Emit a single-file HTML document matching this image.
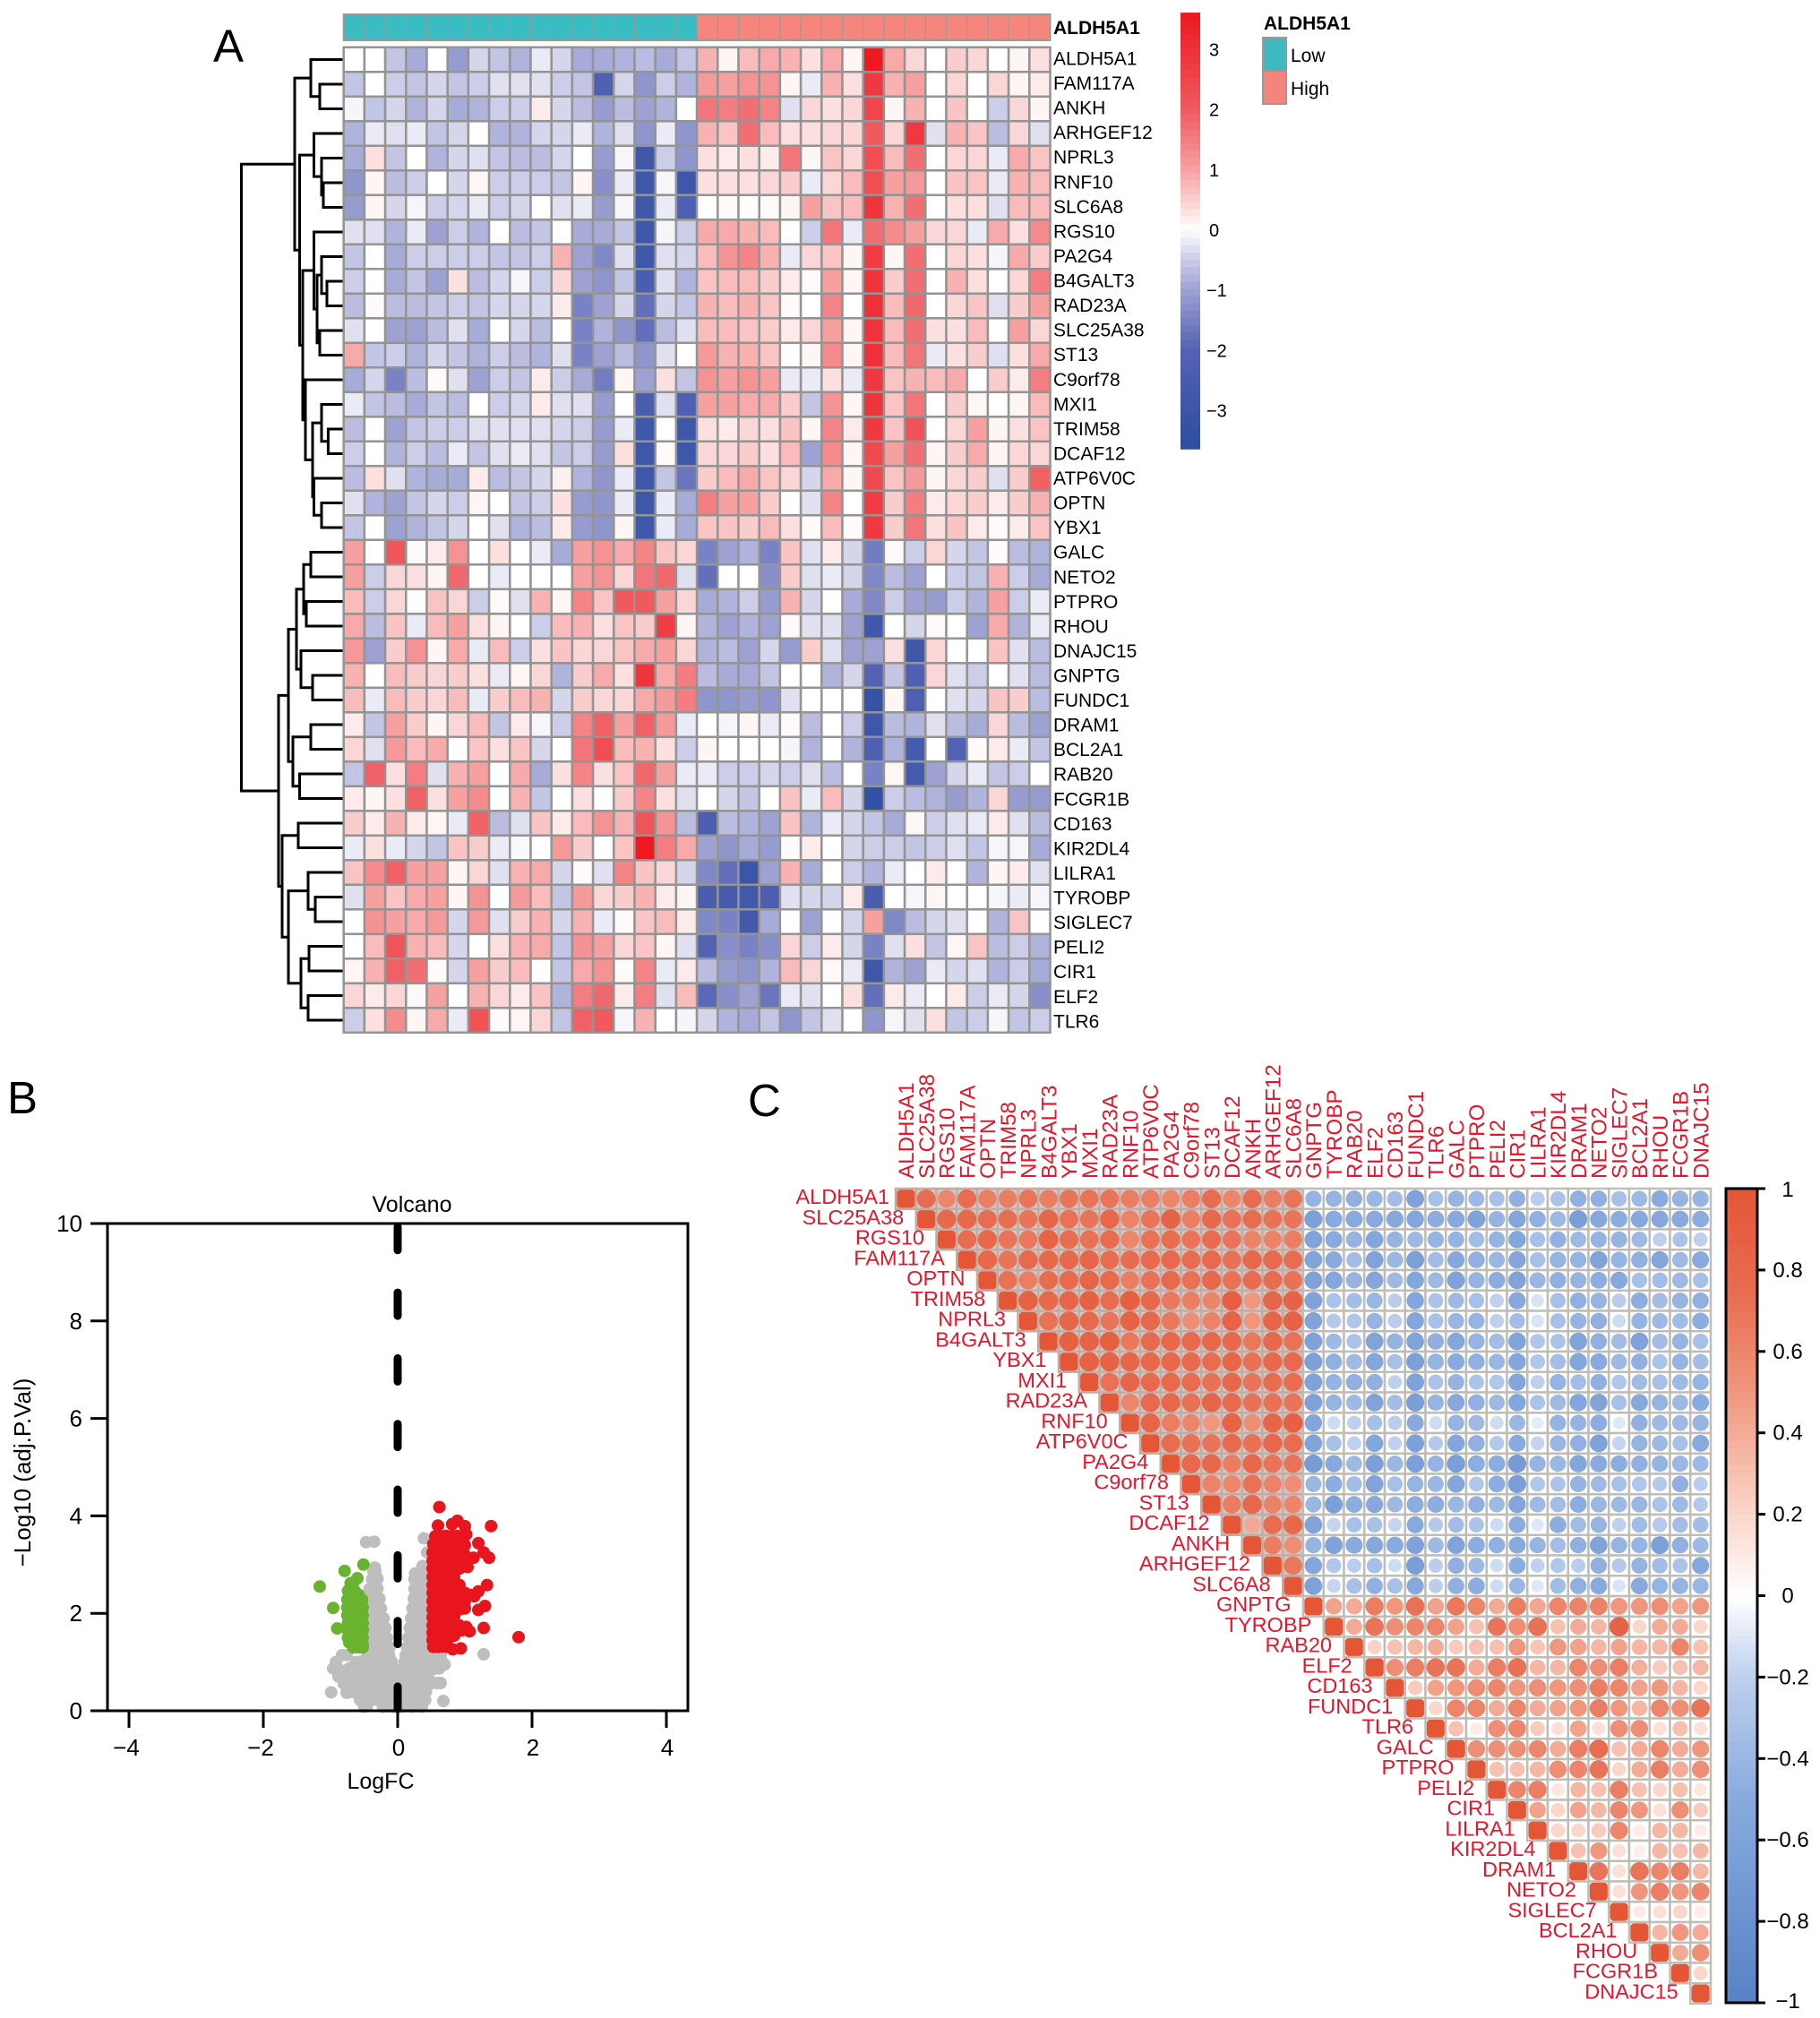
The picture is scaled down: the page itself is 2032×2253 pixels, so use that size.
<!DOCTYPE html>
<html lang="en">
<head>
<meta charset="utf-8">
<title>ALDH5A1 heatmap, volcano plot and correlation matrix</title>
<style>
html,body{margin:0;padding:0;background:#fff;}
svg{display:block;font-family:"Liberation Sans",Arial,sans-serif;}
</style>
</head>
<body>
<svg id="fig" xmlns="http://www.w3.org/2000/svg" width="2032" height="2253" viewBox="0 0 2032 2253">
  <rect x="0" y="0" width="2032" height="2253" fill="#fff"/>
  <text x="238" y="69" font-size="51">A</text>
  <text x="8" y="1243" font-size="51">B</text>
  <text x="835" y="1246" font-size="51">C</text>
  <g id="dendrogram"></g>
  <g id="annotation"></g>
  <g id="heatmap"></g>
  <g id="heatLegend"></g>
  <g>
    <text x="1411" y="33" font-size="21" font-weight="bold">ALDH5A1</text>
    <rect x="1410" y="42" width="26" height="37" fill="#3DB9BF" stroke="#9a9a9a" stroke-width="2"/>
    <rect x="1410" y="79" width="26" height="37" fill="#F4857C" stroke="#9a9a9a" stroke-width="2"/>
    <text x="1441" y="69" font-size="21">Low</text>
    <text x="1441" y="106" font-size="21">High</text>
  </g>
  <g id="volcano"></g>
  <g id="corr"></g>
  <g id="corrLegend"></g>
</svg>
<script>
/* ---------- Panel A data ---------- */
const heatGenes = ["ALDH5A1","FAM117A","ANKH","ARHGEF12","NPRL3","RNF10","SLC6A8","RGS10","PA2G4","B4GALT3","RAD23A","SLC25A38","ST13","C9orf78","MXI1","TRIM58","DCAF12","ATP6V0C","OPTN","YBX1","GALC","NETO2","PTPRO","RHOU","DNAJC15","GNPTG","FUNDC1","DRAM1","BCL2A1","RAB20","FCGR1B","CD163","KIR2DL4","LILRA1","TYROBP","SIGLEC7","PELI2","CIR1","ELF2","TLR6"];
const annotationGroups = ["Low","Low","Low","Low","Low","Low","Low","Low","Low","Low","Low","Low","Low","Low","Low","Low","Low","High","High","High","High","High","High","High","High","High","High","High","High","High","High","High","High","High"];
const heatValues = [
[0,0,-.6,-.9,0,-1.1,-.4,-.6,-.8,-.2,-.4,-.9,-.9,-.8,-.7,-.9,-.6,.8,.1,.7,.9,.8,.3,.9,.1,3.6,.9,.4,0,.5,.4,0,.1,.3],
[-.6,0,-.5,-.6,-.4,-.6,-.5,-.3,-.3,-.3,-.5,-.6,-2.2,-.4,-1.2,-.5,-.8,1.1,1,1.2,1.2,.1,-.2,.8,.3,2.8,.8,1,0,.4,0,.4,.1,.2],
[-.1,-.6,-.4,-.8,-.4,-.9,-.8,-.5,-.5,.2,-.4,-.7,-1.1,-.7,-1,-.8,0,1.6,1.5,1.7,1.4,-.3,.4,.3,.4,2.5,.1,.8,0,.6,0,-.5,.4,.1],
[-.8,-.2,-.3,-.2,-.6,-.4,0,-.8,-.8,-.4,-.4,-.2,-.8,-.3,-1.2,-.2,-1.2,.8,.6,1.7,.7,.3,.3,.4,.4,2,.4,2.8,-.3,.8,.6,-.7,.4,-.3],
[-.9,.3,-.6,0,-.8,-.4,-.3,-.6,-.7,-.7,-.4,0,-1.1,-.1,-2.9,-.5,-1.2,.3,.2,.3,.2,1.6,.1,.6,.4,2.3,.7,1.7,0,.4,.4,-.2,.9,.6],
[-1.2,.1,-.7,-.5,0,-.4,.1,-.5,-.5,-.5,-.6,.1,-1.3,-.2,-2.9,-.1,-2.9,.3,.3,.3,.4,.5,-.2,.4,.7,2.3,1,1.1,0,.6,.6,-.2,.8,.7],
[-1.1,.1,-.4,-.1,-.5,-.4,-.2,-.5,-.4,0,-.3,-.2,-1.1,-.1,-2.9,-.2,-2.2,0,.05,.02,.05,.1,1,.6,.7,2.9,.8,1.7,0,.3,.3,-.3,.7,.7],
[-.3,-.3,-.8,-.2,-1,-.5,-.8,0,-.7,-.6,0,-.9,-.9,-.6,-2.9,-.1,-.5,.9,.9,.8,.7,0,-.5,1.6,-.2,1.7,1.3,1,.4,.4,-.2,.9,.3,1.3],
[-.6,0,-.9,-.5,-.5,-.5,-.5,-.6,-.6,-.5,.8,-1,-1.4,-.3,-2.9,-.3,-.4,.7,1.2,1.4,.8,-.2,.4,.6,.1,2.7,.1,1.7,0,.4,.3,-.1,.9,.5],
[-.5,0,-.9,-.6,-1,.3,-.7,-.4,-.1,-.5,.4,-1,-1.2,-.6,-2.4,-.3,-.8,.6,.7,.7,.5,.2,.05,1,.1,2.9,.5,1.7,0,.8,.3,0,.4,1.5],
[-.7,.05,-.7,-.7,-.6,-.5,-.6,-.4,-.4,-.4,.2,-1.5,-1,-.4,-1.8,-.4,-.6,.8,.7,.8,.6,.05,0,1.4,0,3,.7,1.8,0,.4,.6,-.3,.5,1],
[-.3,0,-1,-1,-.7,-.3,-.9,0,-.4,-.7,0,-1.5,-.8,-1.2,-1.8,-.7,-.3,.7,.7,.6,.5,.2,.4,1,.1,2.9,.7,1.7,.3,.3,.7,0,1,.4],
[.9,-.6,-.5,-.8,-.4,-.6,-.8,-.5,-.7,-.8,-.3,-1.5,-1,-.7,-1.2,-.3,0,1.1,.8,.8,.6,0,.1,1.3,.1,3,.7,1.6,-.2,.3,.5,-.3,.3,.9],
[-.9,-.4,-1.5,-.7,.05,-.3,-1,-.5,-.6,.2,-.5,-.9,-1.6,.1,-1,.3,-.6,1.2,1,1.2,1,-.2,-.2,.3,-.2,2.8,.6,.8,.7,.9,0,.5,.2,1.5],
[-.2,-.6,-.7,-.9,-.6,-.7,0,-.5,-.4,.2,-.3,-.3,-1.1,0,-2.4,-.3,-2.2,1,1,.9,.9,.5,-.6,1.2,.1,2.9,.6,1.6,0,.5,.1,0,.1,.7],
[-.7,0,-1,-.6,-.5,-.5,-.3,-.3,-.3,-.3,-.4,-.5,-1.1,-.2,-2.8,0,-2.9,.3,.2,.4,.3,.6,.1,1.4,.2,2.8,.6,2.2,0,.4,1,.1,.3,.6],
[-.5,0,-.8,-.5,-.7,-.2,-.6,-.3,-.2,-.3,-.6,-.5,-1.1,.3,-2.9,.05,-2.9,.4,.4,.5,.3,.7,-1,1.3,.1,2.4,1,1.7,.1,.5,.9,.1,.4,.4],
[-.7,.3,-.3,-.8,-.9,-.9,.2,-.7,-.6,-.4,.15,-.8,-1.2,-.2,-2.8,-.6,-1.7,.5,.7,.9,.6,.4,-.4,.9,.1,2.4,.6,1.1,.1,.4,.5,-.3,.5,1.9],
[-.3,-.8,-1,-.6,-.4,-.5,.1,0,-.6,-.5,.3,-1.1,-1.2,-.2,-2.9,-.2,-.9,1.5,1,1,.5,0,-.3,1.4,0,2.7,.5,1.5,.2,.4,.5,.2,.5,.8],
[-.6,0,-1,-.8,-.6,-.4,0,-.3,-.8,-.7,.2,-1.1,-1.2,.1,-2.8,-.2,-.9,.6,.6,.5,.7,.3,.05,.7,.05,2.8,.5,1.6,.3,.6,.2,.05,.2,.6],
[1,0,2.1,.05,.2,1.2,0,.3,0,-.2,-.9,1,1.2,.9,1.4,.6,.4,-1.5,-1,-.8,-1.5,.6,-.3,.2,-.4,-1.6,.05,-.5,.4,-.4,-.6,.05,-.7,-.8],
[1,-.5,.4,.3,.1,1.8,0,-.2,0,0,0,1,1.2,.4,1.6,1.8,-.3,-1.8,0,0,-1.3,.5,-.3,-.2,-.4,-1.4,-.7,-1,0,-.5,-.6,.8,-.5,-.9],
[.7,-.5,.4,0,.6,.4,-.5,.05,-.3,.8,.1,1.4,.6,2,2,1,.4,-.9,-.8,-.5,-1.1,.8,-.4,0,-.9,-1.4,-.5,-1,-1.1,-.5,-.8,1,-.5,-.2],
[.9,-.7,.6,-.2,.7,1,.3,.1,0,-.5,.7,.8,.3,.6,.5,2.7,.1,-.8,-1,-.8,-1,.05,-.3,-.3,-1,-2.8,0,-.4,.05,0,-1,.9,-.8,-.2],
[1.1,-1,.5,1.2,.1,.9,-.2,.7,-.5,.3,.6,.4,.4,.6,.9,1,.4,-.8,-.7,-1,-.4,-1.1,.5,-.3,-1,-1,.3,-2.9,.4,0,0,.6,-.3,-.7],
[.8,0,.7,.5,.4,.5,.3,-.2,.1,.4,-.8,.5,.9,.3,2.9,.9,1.5,-.7,-.9,-.9,-.6,0,0,-.8,-.4,-2,-.6,-2.2,.4,-.3,-.5,0,-.3,-.7],
[.7,-.2,.7,.5,.4,.7,-.2,.5,.7,.8,-.4,.5,.4,.4,.9,1.1,1.5,-1.2,-1.2,-1.1,-1.2,-.3,0,0,0,-3.2,.1,-2.2,0,-.3,-.4,.6,.5,-.7],
[.2,-.6,1,.5,.1,.4,.7,-.6,.2,-.1,-.5,1.4,1.9,1,1.9,1.1,-.2,0,-.1,.1,-.2,.05,-.7,0,-.5,-2.9,-.7,-.8,-.3,-.7,-.9,.4,-.7,-1],
[.4,-.3,1.1,.7,.9,0,.6,.3,.6,-.4,0,1.6,2.3,.7,.8,.3,-.5,.1,0,0,0,-.1,-.8,0,-.8,-2.2,-.8,-2.6,0,-2.1,.05,.2,-.2,-.6],
[-.6,1.9,.3,1.5,-.3,.8,1,0,.9,-.9,.3,1.4,.3,.6,1.8,1,-.2,-.2,-.5,-.5,-.4,-.5,-.3,-.7,0,-1.5,.1,-2.6,-1,-.4,-.2,-.6,-.5,0],
[.2,.1,.3,1.9,.3,1,1.3,0,.8,-.6,0,.3,0,.5,1.4,.3,-.3,0,-.4,-.6,0,.6,-.2,.7,-.4,-3.3,-.5,-.7,-.8,-1.1,-.8,.4,-1.1,-1.1],
[.5,.2,.8,.2,.1,-.2,1.9,-.7,-.3,.6,.2,.7,1.2,.8,2.1,1.2,-.7,-2.3,-.7,-.8,-1,.6,-.8,-.2,-.4,-.6,-.9,.1,-.5,-.3,-.2,.2,-.3,-.7],
[-.2,.3,-.2,-.4,-.6,.6,.5,-.2,-.05,0,1.1,.5,0,.6,3.6,1.5,.9,-1,-1.2,-.9,-1.1,.05,.2,0,-.4,-.5,-.5,-.6,-.5,-.3,-.6,-.1,-.1,-.9],
[.6,1.3,1.9,1,1,.1,.4,-.3,.8,.9,-.4,.05,-.3,1.4,.6,.4,-.4,-1.4,-1.8,-3,-1,.8,-.9,0,-.5,-.8,-.2,0,.2,0,-.8,.1,.2,-.3],
[-.3,1,.6,.9,1,.1,1.2,0,1.1,.7,-.6,1.1,.4,.5,.8,.2,.1,-2.4,-2.5,-2.7,-2.3,-.3,-.4,-.4,.2,-2.4,0,-.1,.1,0,0,-.1,-.2,-.1],
[0,1.2,1,.9,1.1,-.4,1.1,-.3,.5,.8,-.4,.8,-.2,.05,.6,.7,.2,-1.4,-1.5,-2.7,-.9,0,-1,0,-.4,1,-1.4,-.7,-.4,-.3,0,-.8,.6,0],
[0,.7,2.1,.8,.7,-.4,0,.3,.8,.9,-.6,1.2,1,.4,.6,.1,-.3,-2,-1.3,-1.5,-1.3,.4,-.5,.2,-.4,-1.5,-.3,.3,-.6,.1,.6,-.7,-.5,-.8],
[.1,.8,1.9,1.7,.05,-.4,1,.5,.7,0,-.6,.9,1.2,.05,1.4,-.2,.2,-.7,-1.1,-1.2,-.8,.7,.4,.05,-.2,-2.9,-.8,-1,-.2,-.4,-.3,-.8,-.5,-.9],
[.4,.2,.4,-.05,1,0,.8,.4,.2,.6,-.8,1.5,1.8,.2,1.5,-.3,.7,-1.9,-1.3,-1,-1.7,-.2,-.3,0,.3,-1.8,.2,-.2,0,.2,-.5,-.2,-.4,-1.3],
[-.5,.3,1.3,.1,.9,-.2,2.2,.05,.1,.4,-.6,1.9,2,-.1,.8,0,-.1,-.4,-.8,-.9,-.6,-1.2,-.6,-.3,0,-1.2,-.1,-.3,.3,-.6,-.5,-.1,-.6,-.5]
];
const heatLegendTicks = [3,2,1,0,-1,-2,-3];
/* merge heights of the row dendrogram: [height, left branch, right branch]; plain numbers are row indexes */
const dendroUpper = [54,[36,0,[26,1,2]],[48.5,[32.5,3,[24,4,[22,5,6]]],[45,[32.5,7,[29,[24,8,[18,9,10]],[26,11,12]]],[42,13,[34,[24,14,[16.6,15,16]],[32.5,17,[24,18,19]]]]]]];
const dendroLower = [72,[61,[52,[44,[36,20,21],[41,22,23]],[47,24,[34,25,26]]],[56,[36,27,28],[48.5,29,30]]],[68,[50,31,32],[61,[39,33,[31,34,35]],[47,[38,36,37],[39,38,39]]]]];
const dendroRootHeight = 113.5;

/* ---------- Panel B data: [logFC, -log10 adj.P] ---------- */
const volcanoXTicks = [-4,-2,0,2,4];
const volcanoYTicks = [0,2,4,6,8,10];
const volcanoGray = [
[-.5,.08],[-.46,.09],[-.22,.08],[-.14,.09],[-.06,.08],[.06,.08],[.14,.09],[.22,.08],[.3,.09],[.36,.08],
[-.56,.22],[-.48,.23],[-.4,.22],[-.32,.23],[-.24,.22],[-.16,.23],[-.08,.22],[.06,.22],[.14,.23],[.22,.22],[.3,.23],[.38,.22],[.41,.22],[.68,.2],
[-.99,.38],[-.76,.37],[-.66,.38],[-.58,.38],[-.5,.39],[-.42,.38],[-.34,.38],[-.26,.39],[-.18,.38],[-.1,.38],[-.03,.39],[.04,.38],[.12,.38],[.2,.39],[.28,.38],[.36,.38],[.42,.39],
[-.8,.55],[-.72,.55],[-.64,.56],[-.56,.55],[-.48,.55],[-.4,.56],[-.32,.55],[-.24,.55],[-.16,.56],[-.08,.55],[-.04,.55],[.03,.55],[.11,.56],[.19,.55],[.27,.55],[.35,.56],[.43,.55],[.48,.55],[.58,.57],[.64,.57],
[-.88,.7],[-.8,.7],[-.72,.71],[-.64,.7],[-.56,.7],[-.48,.71],[-.4,.7],[-.32,.7],[-.24,.71],[-.16,.7],[-.08,.7],[.06,.7],[.14,.71],[.22,.7],[.3,.7],[.38,.71],[.45,.7],
[-.96,.87],[-.88,.86],[-.72,.87],[-.64,.86],[-.56,.87],[-.48,.86],[-.4,.87],[-.32,.86],[-.24,.87],[-.16,.86],[-.08,.87],[.07,.86],[.14,.87],[.22,.86],[.3,.87],[.38,.86],[.46,.87],[.54,.86],[.62,.87],[.7,.95],
[-.92,1],[-.62,1],[-.54,1.01],[-.46,1],[-.38,1.01],[-.3,1],[-.22,1.01],[-.14,1],[-.09,1.01],[.1,1],[.18,1.01],[.26,1],[.34,1.01],[.42,1],[.5,1.01],[.58,1],[.66,1.01],
[-.83,1.14],[-.76,1.14],[-.45,1.14],[-.37,1.15],[-.29,1.14],[-.21,1.15],[-.13,1.14],[.12,1.14],[.2,1.15],[.28,1.14],[.36,1.15],[.44,1.14],[.52,1.15],[.58,1.14],[.64,1.15],[1.28,1.16],
[-.42,1.3],[-.34,1.3],[-.26,1.31],[-.18,1.3],[-.12,1.3],[.14,1.3],[.22,1.31],[.3,1.3],[.38,1.3],[.45,1.31],
[-.45,1.5],[-.38,1.5],[-.3,1.51],[-.22,1.5],[-.16,1.5],[.16,1.5],[.24,1.51],[.32,1.5],[.4,1.5],[.46,1.51],
[-.45,1.7],[-.38,1.7],[-.3,1.71],[-.22,1.7],[-.18,1.7],[.18,1.7],[.26,1.71],[.34,1.7],[.42,1.7],[.46,1.71],
[-.42,1.9],[-.36,1.9],[-.3,1.91],[-.24,1.9],[-.21,1.9],[.2,1.9],[.28,1.91],[.36,1.9],[.44,1.9],
[-.42,2.1],[-.36,2.1],[-.3,2.11],[-.25,2.1],[.22,2.1],[.3,2.11],[.38,2.1],[.45,2.1],
[-.42,2.3],[-.36,2.3],[-.3,2.31],[-.27,2.3],[.24,2.3],[.32,2.31],[.4,2.3],[.46,2.3],
[-.42,2.5],[-.36,2.5],[-.3,2.51],[.25,2.5],[.32,2.51],[.4,2.5],[.46,2.5],
[-.38,2.7],[-.33,2.7],[-.3,2.71],[.25,2.7],[.32,2.71],[.4,2.7],
[-.36,2.85],[-.33,2.86],[.26,2.82],[.36,2.85],[-.34,2.94],[.37,2.97],[.44,3.25],[.39,3.54],[-.47,3.46],[-.35,3.47]
];
const volcanoGreen = [
[-1.16,2.55],[-.79,2.87],[-.51,3],[-.6,2.72],[-.96,2.11],[-.9,1.69],[-.7,2.62],[-.67,2.56],[-.74,2.46],[-.64,2.46],[-.58,2.38],
[-.75,2.28],[-.65,2.28],[-.58,2.25],[-.53,2.28],[-.75,2.12],[-.67,2.12],[-.59,2.1],[-.52,2.12],
[-.75,1.96],[-.67,1.96],[-.6,1.95],[-.52,1.96],[-.74,1.8],[-.67,1.8],[-.6,1.81],[-.52,1.8],
[-.74,1.65],[-.67,1.66],[-.6,1.65],[-.52,1.66],[-.74,1.5],[-.67,1.5],[-.6,1.51],[-.52,1.5],
[-.72,1.4],[-.65,1.36],[-.59,1.36],[-.52,1.36],[-.66,1.3],[-.58,1.3],[-.52,1.3]
];
const volcanoRed = [
[.62,4.18],[.6,3.8],[.81,3.83],[.89,3.9],[1,3.79],[1.39,3.79],
[.56,3.58],[.64,3.58],[.72,3.59],[.8,3.58],[.88,3.59],[.95,3.58],[1.02,3.62],
[.53,3.42],[.6,3.42],[.68,3.43],[.76,3.42],[.84,3.43],[.92,3.42],[1,3.4],[1.2,3.44],
[.52,3.25],[.6,3.25],[.68,3.26],[.76,3.25],[.84,3.26],[.92,3.25],[.98,3.25],[1.28,3.25],
[.52,3.08],[.6,3.08],[.68,3.09],[.76,3.08],[.84,3.09],[.92,3.08],[.98,3.09],[1.05,3.14],[1.13,3.14],[1.36,3.14],
[.52,2.92],[.6,2.92],[.68,2.93],[.76,2.92],[.84,2.93],[.92,2.92],[1.04,2.95],
[.52,2.75],[.6,2.75],[.68,2.76],[.76,2.75],[.84,2.76],
[.52,2.58],[.6,2.58],[.68,2.59],[.76,2.58],[.84,2.59],[.92,2.58],[1.33,2.58],
[.52,2.42],[.6,2.42],[.68,2.43],[.76,2.42],[.84,2.43],[.92,2.42],[1,2.42],[1.07,2.38],[1.14,2.35],[1.2,2.45],
[.52,2.25],[.6,2.25],[.68,2.26],[.76,2.25],[.84,2.26],[.92,2.25],[1,2.25],
[.52,2.08],[.6,2.08],[.68,2.09],[.76,2.08],[.84,2.09],[.92,2.08],[1,2.1],[1.2,2.07],[1.3,2.15],
[.52,1.92],[.6,1.92],[.68,1.93],[.76,1.92],[.84,1.93],
[.52,1.75],[.6,1.75],[.68,1.76],[.76,1.75],[.84,1.76],[.92,1.75],[1.02,1.72],
[.52,1.6],[.6,1.6],[.68,1.61],[.76,1.6],[.84,1.54],[.95,1.65],[1.07,1.63],[1.28,1.7],[1.8,1.51],
[.52,1.45],[.6,1.45],[.68,1.46],[.74,1.45],
[.53,1.31],[.6,1.31],[.68,1.32],[.74,1.31],[.82,1.26],[.94,1.28]
];

/* ---------- Panel C data ---------- */
const corrGenes = ["ALDH5A1","SLC25A38","RGS10","FAM117A","OPTN","TRIM58","NPRL3","B4GALT3","YBX1","MXI1","RAD23A","RNF10","ATP6V0C","PA2G4","C9orf78","ST13","DCAF12","ANKH","ARHGEF12","SLC6A8","GNPTG","TYROBP","RAB20","ELF2","CD163","FUNDC1","TLR6","GALC","PTPRO","PELI2","CIR1","LILRA1","KIR2DL4","DRAM1","NETO2","SIGLEC7","BCL2A1","RHOU","FCGR1B","DNAJC15"];
/* upper-triangle correlations, first gene group against itself (off-diagonal) */
const corrBlockOne = [
[.75,.6,.75,.65,.65,.7,.65,.7,.7,.7,.65,.65,.6,.65,.75,.6,.75,.65,.7],
[.8,.8,.75,.75,.7,.82,.72,.7,.8,.62,.7,.85,.65,.8,.72,.75,.72,.7],
[.75,.8,.7,.68,.85,.75,.72,.75,.6,.72,.75,.7,.75,.7,.62,.62,.65],
[.8,.7,.78,.8,.8,.82,.75,.75,.78,.78,.75,.78,.72,.8,.78,.75],
[.72,.65,.75,.78,.82,.78,.65,.72,.78,.72,.8,.72,.75,.75,.72],
[.85,.8,.82,.88,.75,.9,.8,.68,.65,.6,.9,.5,.82,.85],
[.72,.82,.78,.7,.85,.8,.68,.55,.62,.85,.5,.82,.85],
[.88,.85,.88,.68,.78,.8,.78,.8,.8,.68,.8,.72],
[.85,.85,.82,.8,.8,.78,.75,.82,.72,.8,.78],
[.72,.82,.78,.78,.75,.72,.8,.7,.75,.75],
[.6,.78,.8,.72,.82,.78,.72,.72,.7],
[.82,.65,.6,.5,.85,.55,.82,.88],
[.75,.72,.7,.78,.72,.8,.75],
[.78,.8,.65,.8,.7,.7],
[.62,.6,.72,.62,.55],
[.65,.8,.62,.6],
[.42,.75,.8],
[.65,.55],
[.68]
];
/* first gene group (rows) against second gene group (columns) */
const corrBlockCross = [
[-.42,-.42,-.45,-.4,-.35,-.6,-.33,-.42,-.38,-.33,-.45,-.22,-.3,-.45,-.45,-.33,-.38,-.5,-.42,-.42],
[-.62,-.5,-.5,-.5,-.52,-.55,-.48,-.52,-.6,-.42,-.55,-.45,-.38,-.65,-.52,-.48,-.52,-.52,-.5,-.48],
[-.58,-.5,-.42,-.55,-.42,-.38,-.42,-.42,-.36,-.42,-.55,-.33,-.45,-.38,-.42,-.42,-.38,-.2,-.3,-.2],
[-.58,-.5,-.35,-.58,-.4,-.62,-.36,-.52,-.45,-.4,-.55,-.33,-.42,-.42,-.58,-.42,-.45,-.55,-.38,-.5],
[-.6,-.55,-.42,-.55,-.38,-.55,-.38,-.6,-.42,-.48,-.58,-.4,-.45,-.42,-.48,-.52,-.33,-.35,-.38,-.33],
[-.6,-.3,-.35,-.4,-.22,-.55,-.3,-.38,-.33,-.2,-.52,-.12,-.33,-.45,-.42,-.22,-.48,-.35,-.42,-.45],
[-.58,-.25,-.27,-.42,-.22,-.55,-.32,-.4,-.42,-.2,-.35,-.12,-.33,-.42,-.45,-.15,-.42,-.38,-.36,-.48],
[-.6,-.38,-.3,-.58,-.42,-.58,-.45,-.55,-.42,-.35,-.58,-.28,-.3,-.58,-.45,-.35,-.6,-.35,-.42,-.33],
[-.62,-.45,-.38,-.55,-.33,-.62,-.42,-.5,-.45,-.4,-.55,-.28,-.35,-.55,-.5,-.38,-.45,-.3,-.42,-.35],
[-.6,-.42,-.45,-.45,-.2,-.6,-.3,-.42,-.3,-.28,-.55,-.2,-.42,-.35,-.45,-.28,-.36,-.33,-.38,-.42],
[-.6,-.42,-.38,-.58,-.35,-.65,-.42,-.52,-.45,-.38,-.55,-.3,-.38,-.55,-.58,-.33,-.52,-.42,-.38,-.5],
[-.55,-.15,-.2,-.33,-.22,-.5,-.15,-.42,-.38,-.15,-.4,-.08,-.42,-.42,-.48,-.1,-.45,-.38,-.38,-.42],
[-.58,-.33,-.2,-.55,-.2,-.62,-.25,-.55,-.45,-.25,-.5,-.18,-.4,-.45,-.6,-.18,-.42,-.38,-.32,-.5],
[-.68,-.52,-.38,-.62,-.4,-.62,-.42,-.65,-.48,-.48,-.68,-.42,-.4,-.55,-.5,-.48,-.45,-.42,-.4,-.38],
[-.4,-.48,-.35,-.58,-.33,-.42,-.4,-.55,-.28,-.48,-.65,-.28,-.3,-.42,-.38,-.32,-.28,-.25,-.45,-.22],
[-.4,-.62,-.48,-.52,-.38,-.48,-.48,-.4,-.45,-.38,-.55,-.38,-.35,-.48,-.4,-.38,-.4,-.3,-.38,-.25],
[-.58,-.18,-.33,-.33,-.18,-.5,-.25,-.36,-.3,-.15,-.48,-.1,-.48,-.36,-.42,-.2,-.36,-.25,-.35,-.35],
[-.42,-.6,-.5,-.52,-.5,-.6,-.38,-.58,-.48,-.45,-.5,-.42,-.35,-.45,-.58,-.42,-.42,-.62,-.45,-.38],
[-.55,-.28,-.22,-.33,-.15,-.65,-.22,-.45,-.38,-.15,-.48,-.2,-.28,-.22,-.45,-.25,-.42,-.35,-.3,-.52],
[-.6,-.18,-.33,-.45,-.33,-.52,-.22,-.45,-.48,-.15,-.4,-.1,-.36,-.45,-.5,-.12,-.5,-.42,-.42,-.4]
];
/* second gene group against itself (off-diagonal) */
const corrBlockTwo = [
[.45,.4,.65,.5,.72,.45,.68,.6,.4,.65,.42,.6,.62,.62,.5,.5,.55,.45,.5],
[.4,.7,.55,.6,.6,.45,.3,.7,.55,.72,.3,.4,.35,.85,.2,.4,.4,.2],
[.22,.3,.35,.4,.25,.3,.3,.5,.28,.5,.45,.35,.45,.35,.35,.6,.3],
[.55,.65,.7,.7,.4,.65,.72,.35,.35,.6,.55,.65,.38,.25,.3,.35],
[.25,.45,.5,.55,.6,.5,.55,.5,.55,.65,.6,.45,.5,.35,.2],
[.2,.6,.6,.4,.6,.4,.45,.5,.65,.5,.35,.6,.55,.7],
[.3,.1,.55,.6,.25,.15,.45,.15,.55,.55,.15,.3,.15],
[.55,.55,.55,.6,.4,.65,.75,.3,.4,.6,.4,.5],
[.3,.3,.35,.55,.6,.7,.2,.4,.65,.4,.55],
[.6,.65,.12,.35,.3,.65,.3,.2,.3,.12],
[.45,.2,.45,.35,.6,.5,.15,.55,.25],
[.2,.2,.25,.6,.1,.35,.35,.1],
[.3,.5,.15,.08,.35,.3,.35],
[.7,.15,.7,.6,.65,.35],
[.15,.5,.65,.5,.6],
[.1,.15,.2,.1],
[.35,.5,.4],
[.4,.55],
[.2]
];
const corrLegendTicks = [1,.8,.6,.4,.2,0,-.2,-.4,-.6,-.8,-1];

/* ---------- helpers ---------- */
const NS = "http://www.w3.org/2000/svg";
function make(parent, tag, attrs, txt){
  const el = document.createElementNS(NS, tag);
  for (const k in attrs) el.setAttribute(k, attrs[k]);
  if (txt !== undefined) el.textContent = txt;
  parent.appendChild(el);
  return el;
}
function mix(stops, v){
  if (v <= stops[0][0]) return stops[0][1];
  for (let i = 1; i < stops.length; i++){
    if (v <= stops[i][0]){
      const t = (v - stops[i-1][0]) / (stops[i][0] - stops[i-1][0]);
      const a = stops[i-1][1], b = stops[i][1];
      return [0,1,2].map(j => Math.round(a[j] + (b[j]-a[j])*t));
    }
  }
  return stops[stops.length-1][1];
}
function rgb(c){ return "rgb(" + c[0] + "," + c[1] + "," + c[2] + ")"; }
function fmt(v){ return String(v).replace("-", "\u2212"); }

/* ---------- Panel A ---------- */
const heatStops = [[-3.7,[42,77,160]],[-2,[84,98,180]],[-1,[158,162,211]],[-.4,[213,214,236]],[0,[255,255,255]],[.4,[251,214,214]],[1,[247,160,160]],[2,[239,90,95]],[3.6,[238,24,32]]];
const heatX = c => 383.7 + c * 23.2;
const heatY = r => 52.8 + r * 27.5;
const heatG = document.getElementById("heatmap");
heatValues.forEach((row, r) => {
  row.forEach((v, c) => {
    const cell = make(heatG, "rect", {x: heatX(c), y: heatY(r), width: 23.2, height: 27.5, fill: rgb(mix(heatStops, v)), stroke: "#949494", "stroke-width": 2.5});
    
    
  });
});
heatGenes.forEach((g, r) => {
  const t = make(heatG, "text", {x: 1176, y: 72.5 + r * 27.56, "font-size": 21}, g);
  
  
});

const annG = document.getElementById("annotation");
annotationGroups.forEach((g, c) => {
  const cell = make(annG, "rect", {x: heatX(c), y: 16, width: 23.2, height: 29, fill: g === "Low" ? "#38BDC3" : "#F6857C", stroke: "#9a9a9a", "stroke-width": 1});
  
  
});
const annFrame = make(annG, "rect", {x: 383.7, y: 16, width: 788.8, height: 29, fill: "none", stroke: "#9a9a9a", "stroke-width": 2});


const annLabel = make(annG, "text", {x: 1176, y: 38, "font-size": 21, "font-weight": "bold"}, "ALDH5A1");



/* heatmap legend */
const hlY = v => 256 - v * 67.2;
const hlG = document.getElementById("heatLegend");
for (let i = 0; i < 60; i++){
  const v = 3.6 - i * (7.25 / 60);
  const seg = make(hlG, "rect", {x: 1318, y: hlY(v), width: 22, height: 8.6, fill: rgb(mix(heatStops, v - .06))});
  
  
}
heatLegendTicks.forEach(v => {
  const t = make(hlG, "text", {x: v < 0 ? 1347 : 1350, y: hlY(v) + 8, "font-size": 20}, fmt(v));
  
  
});

/* dendrogram */
const dendG = document.getElementById("dendrogram");
const dendX = h => 383 - h;
function drawBranch(node){
  if (typeof node === "number") return {x: 383, y: heatY(node) + 13.75};
  const a = drawBranch(node[1]), b = drawBranch(node[2]);
  const x = dendX(node[0]);
  const p = make(dendG, "path", {d: "M" + a.x + " " + a.y + "H" + x + "V" + b.y + "H" + b.x, fill: "none", stroke: "#000", "stroke-width": 3});
  
  
  return {x: x, y: (a.y + b.y) / 2};
}
drawBranch([dendroRootHeight, dendroUpper, dendroLower]);

/* ---------- Panel B ---------- */
const volX = v => 444 + v * 75;
const volY = v => 1910 - v * 54.4;
const volG = document.getElementById("volcano");
function drawPoints(list, fill, name){
  list.forEach(p => {
    const dot = make(volG, "circle", {cx: volX(p[0]), cy: volY(p[1]), r: 7, fill: fill});
    
    
  });
}
drawPoints(volcanoGray, "#BEBEBE", "volcano-point-not-significant");
drawPoints(volcanoGreen, "#69B32E", "volcano-point-down");
drawPoints(volcanoRed, "#E8141E", "volcano-point-up");
const zeroLine = make(volG, "line", {x1: volX(0), x2: volX(0), y1: volY(9.93), y2: 1908, stroke: "#000", "stroke-width": 9, "stroke-linecap": "round", "stroke-dasharray": "26 47.3"});


const volFrame = make(volG, "rect", {x: 120, y: 1366, width: 648, height: 544, fill: "none", stroke: "#000", "stroke-width": 3});


volcanoXTicks.forEach(v => {
  const l = make(volG, "line", {x1: volX(v), x2: volX(v), y1: 1910, y2: 1929, stroke: "#000", "stroke-width": 3});
  
  
  const t = make(volG, "text", {x: volX(v) + (v < 0 ? -3 : 1), y: 1960, "font-size": 26, "text-anchor": "middle"}, fmt(v));
  
  
});
volcanoYTicks.forEach(v => {
  const l = make(volG, "line", {x1: 101, x2: 120, y1: volY(v), y2: volY(v), stroke: "#000", "stroke-width": 3});
  
  
  const t = make(volG, "text", {x: 92, y: volY(v) + 9, "font-size": 26, "text-anchor": "end"}, fmt(v));
  
  
});
const volTitle = make(volG, "text", {x: 460, y: 1353, "font-size": 25, "text-anchor": "middle"}, "Volcano");


const volXT = make(volG, "text", {x: 425, y: 1997, "font-size": 25, "text-anchor": "middle"}, "LogFC");


const volYT = make(volG, "text", {x: 0, y: 0, "font-size": 26, "text-anchor": "middle", transform: "translate(34 1644) rotate(-90)"}, "\u2212Log10 (adj.P.Val)");



/* ---------- Panel C ---------- */
const corrStops = [[-1,[88,130,198]],[-.5,[136,170,222]],[-.2,[190,208,238]],[0,[255,255,255]],[.2,[250,214,203]],[.5,[240,150,125]],[.75,[232,108,80]],[1,[228,86,54]]];
const corrX = c => 1000 + c * 22.75;
const corrY = r => 1327 + r * 22.75;
const corrG = document.getElementById("corr");
function corrValue(i, j){
  if (i === j) return 1;
  if (j < 20) return corrBlockOne[i][j - i - 1];
  if (i < 20) return corrBlockCross[i][j - 20];
  return corrBlockTwo[i - 20][j - i - 1];
}
corrGenes.forEach((g, i) => {
  for (let j = i; j < corrGenes.length; j++){
    const strongBlock = i < 20 && j < 20;
    const cell = make(corrG, "rect", {x: corrX(j), y: corrY(i), width: 22.75, height: 22.75, fill: strongBlock ? "#d3c6c4" : "#fff", stroke: strongBlock ? "#c4aca2" : "#c0bdb7", "stroke-width": 2.5});
    
    
  }
});
corrGenes.forEach((g, i) => {
  for (let j = i; j < corrGenes.length; j++){
    const v = corrValue(i, j);
    const cx = corrX(j) + 11.375, cy = corrY(i) + 11.375;
    let mark;
    if (i === j){
      mark = make(corrG, "rect", {x: cx - 10, y: cy - 10, width: 20, height: 20, rx: 4, fill: rgb(mix(corrStops, v))});
    } else {
      mark = make(corrG, "circle", {cx: cx, cy: cy, r: 11.3 * (.45 + .55 * Math.sqrt(Math.abs(v))), fill: rgb(mix(corrStops, v))});
    }
    
    
  }
  const rl = make(corrG, "text", {x: corrX(i) - (i === 0 ? 7 : 13.5), y: corrY(i) + 17, "font-size": 23.5, fill: "#E0182D", "text-anchor": "end"}, g);
  
  
  const cl = make(corrG, "text", {x: 0, y: 0, "font-size": 24.2, fill: "#E0182D", transform: "translate(" + (corrX(i) + 20) + " 1316) rotate(-90)"}, g);
  
  
});

const clG = document.getElementById("corrLegend");
const clY = v => 1327 + (1 - v) * 454.5;
for (let i = 0; i < 100; i++){
  const v = 1 - i * .02;
  const seg = make(clG, "rect", {x: 1927, y: clY(v), width: 35, height: 9.5, fill: rgb(mix(corrStops, v - .01))});
  
  
}
const clFrame = make(clG, "rect", {x: 1927, y: 1327, width: 35, height: 909, fill: "none", stroke: "#000", "stroke-width": 3});


corrLegendTicks.forEach(v => {
  const l = make(clG, "line", {x1: 1962, x2: 1971, y1: clY(v), y2: clY(v), stroke: "#000", "stroke-width": 3});
  
  
  const yo = v === 1 ? 9 : v === -1 ? 6 : 8;
  const t = make(clG, "text", {x: 1996, y: clY(v) + yo, "font-size": 24, "text-anchor": "middle"}, fmt(v));
  
  
});
</script>
</body>
</html>
